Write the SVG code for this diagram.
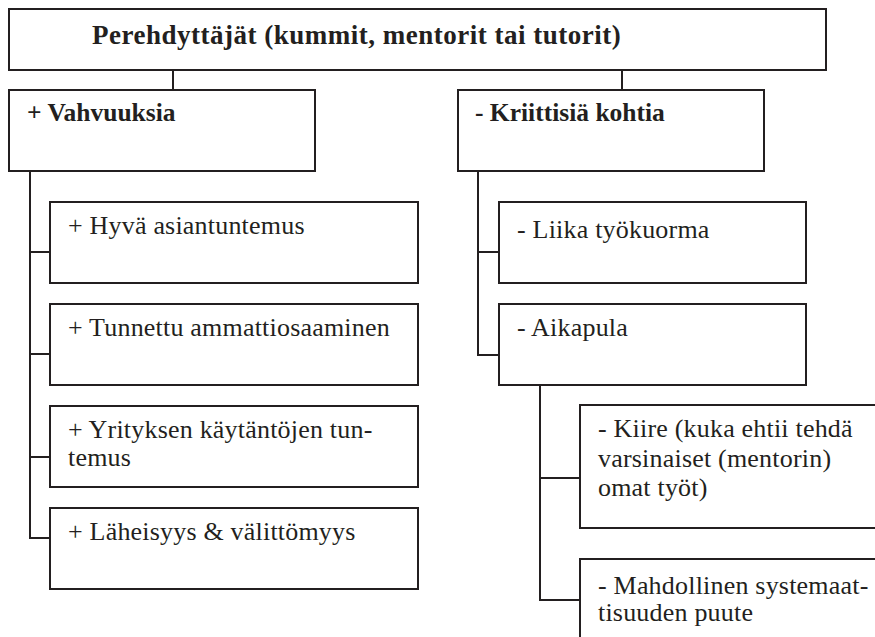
<svg xmlns="http://www.w3.org/2000/svg" width="875" height="637" viewBox="0 0 875 637">
  <style>
    .box { fill: #ffffff; stroke: #231f20; stroke-width: 2; }
    .wire { fill: none; stroke: #231f20; stroke-width: 2; }
    .t { font-family: "Liberation Serif", "Times New Roman", serif; fill: #231f20; font-size: 26px; letter-spacing: 0.2px; }
    .b { font-weight: bold; font-size: 25.5px; letter-spacing: 0; }
    .title { font-size: 27px; letter-spacing: 0.5px; }
  </style>
  <rect width="875" height="637" fill="#ffffff"/>

  <!-- connectors -->
  <g id="connectors" class="wire">
    <path d="M173 70 V90"/>
    <path d="M622 70 V90"/>
    <path d="M30 171 V538 H50 M30 252 H50 M30 354 H50 M30 457 H50"/>
    <path d="M478 171 V355 H499 M478 252 H499"/>
    <path d="M540 385 V600 H580 M540 478 H580"/>
  </g>

  <g id="root">
    <rect class="box" x="9" y="9" width="817" height="61"/>
    <text class="t b title" x="92" y="44">Perehdyttäjät (kummit, mentorit tai tutorit)</text>
  </g>

  <g id="strengths">
    <rect class="box" x="9" y="90" width="306" height="81"/>
    <text class="t b" x="27" y="121">+ Vahvuuksia</text>
  </g>

  <g id="critical">
    <rect class="box" x="458" y="90" width="306" height="81"/>
    <text class="t b" x="475" y="121">- Kriittisiä kohtia</text>
  </g>

  <g id="s1">
    <rect class="box" x="50" y="202" width="368" height="81"/>
    <text class="t" x="68" y="234">+ Hyvä asiantuntemus</text>
  </g>

  <g id="s2">
    <rect class="box" x="50" y="304" width="368" height="81"/>
    <text class="t" x="68" y="336">+ Tunnettu ammattiosaaminen</text>
  </g>

  <g id="s3">
    <rect class="box" x="50" y="406" width="368" height="81"/>
    <text class="t" x="68" y="438">+ Yrityksen käytäntöjen tun-</text>
    <text class="t" x="68" y="466">temus</text>
  </g>

  <g id="s4">
    <rect class="box" x="50" y="508" width="368" height="81"/>
    <text class="t" x="68" y="540">+ Läheisyys &amp; välittömyys</text>
  </g>

  <g id="c1">
    <rect class="box" x="499" y="202" width="307" height="81"/>
    <text class="t" x="517" y="238">- Liika työkuorma</text>
  </g>

  <g id="c2">
    <rect class="box" x="499" y="304" width="307" height="81"/>
    <text class="t" x="517" y="336">- Aikapula</text>
  </g>

  <g id="c21">
    <rect class="box" x="580" y="405" width="310" height="123"/>
    <text class="t" x="598" y="437">- Kiire (kuka ehtii tehdä</text>
    <text class="t" x="598" y="467">varsinaiset (mentorin)</text>
    <text class="t" x="598" y="496">omat työt)</text>
  </g>

  <g id="c22">
    <rect class="box" x="580" y="559" width="310" height="100"/>
    <text class="t" x="598" y="594">- Mahdollinen systemaat-</text>
    <text class="t" x="598" y="621">tisuuden puute</text>
  </g>
</svg>
